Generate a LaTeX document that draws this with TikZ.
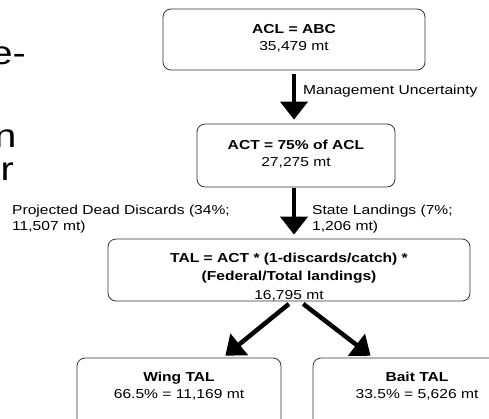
\documentclass[tikz,border=0pt]{standalone}
\usepackage{fontspec}
\setmainfont{Liberation Sans}[FakeStretch=1.2]
\usetikzlibrary{positioning}
\usetikzlibrary{arrows.meta}

\begin{document}
\begin{tikzpicture}[
  x=1pt, y=-1pt,
  box/.style = {draw=black!80, line width=0.8pt, rounded corners=8pt},
  boxtext/.style = {inner sep=0pt, anchor=north, align=center,
    font=\fontsize{13}{17}\selectfont},
  note/.style = {inner sep=0pt, align=left, font=\fontsize{13}{16}\selectfont},
  slide/.style = {inner sep=0pt, anchor=base east, font=\fontsize{33}{40}\selectfont},
  flow/.style = {line width=4.5pt, -{Triangle[width=27pt,length=18pt]}},
]

  \clip (0,0) rectangle (489,418);

  % left over from the slide text
  \node[slide] (frag1) at (26,64) {e-};
  \node[slide] (frag2) at (16.5,147) {n};
  \node[slide] (frag3) at (14,180) {r};

  \node[box, minimum width=262pt, minimum height=61pt] (acl) at (294,39.5) {};
  \node[box, minimum width=198pt, minimum height=63pt] (act) at (296,155.5) {};
  \node[box, minimum width=362pt, minimum height=62pt] (tal) at (289,270) {};
  \node[box, minimum width=204pt, minimum height=78pt] (wing) at (179,397) {};
  \node[box, minimum width=204pt, minimum height=78pt] (bait) at (415,397) {};

  \node[boxtext] (acl-text) at (294,24.5) {\textbf{ACL = ABC}\\35,479 mt};
  \node[boxtext] (act-text) at (296,139.5) {\textbf{ACT = 75\% of ACL}\\27,275 mt};
  \node[boxtext, font=\fontsize{13}{18.5}\selectfont] (tal-text) at (289,252.5)
    {\textbf{TAL = ACT * (1-discards/catch) *}\\\textbf{(Federal/Total landings)}\\16,795 mt};
  \node[boxtext] (wing-text) at (179,372) {\textbf{Wing TAL}\\66.5\% = 11,169 mt};
  \node[boxtext] (bait-text) at (417,372) {\textbf{Bait TAL}\\33.5\% = 5,626 mt};

  \draw[flow, shorten <=4pt, shorten >=4pt] (acl.south) -- (acl.south |- act.north);
  \draw[flow, shorten <=1pt, shorten >=4pt] (act.south -| acl.south) -- (tal.north -| acl.south);
  \draw[flow, shorten <=4pt, shorten >=3pt] ([xshift=3pt]tal.south) -- ([xshift=44pt]wing.north);
  \draw[flow, shorten <=4pt, shorten >=3pt] ([xshift=11pt]tal.south) -- ([xshift=-42pt]bait.north);

  \node[note, anchor=base west] (mgmt) at (303,94) {Management Uncertainty};
  \node[note, anchor=north west] (discards) at (12,204.5)
    {Projected Dead Discards (34\%;\\11,507 mt)};
  \node[note, anchor=north west] (state) at (312,204.5)
    {State Landings (7\%;\\1,206 mt)};

\end{tikzpicture}
\end{document}
